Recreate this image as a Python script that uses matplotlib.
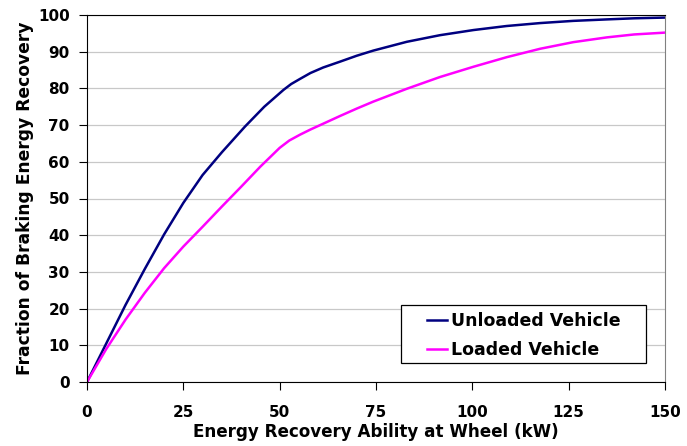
import matplotlib
matplotlib.use("Agg")
import matplotlib.pyplot as plt
from matplotlib.patches import Rectangle

# values (kW, % recovered)
unloaded_kw = [0, 5, 10, 15, 20, 25, 30, 35, 41, 46, 51, 53, 55.3, 58, 61.3, 65.7, 70,
               74.3, 83, 91.6, 100.3, 108.9, 117.6, 126.2, 134.9, 142, 150]
unloaded = [0, 10.5, 21, 30.8, 40.2, 48.8, 56.4, 62.6, 69.6, 75, 79.6, 81.2, 82.6, 84.2,
            85.7, 87.3, 88.9, 90.3, 92.7, 94.5, 95.9, 97.0, 97.8, 98.4, 98.8, 99.1, 99.3]

loaded_kw = [0, 5, 10, 15, 20, 25, 30, 35, 40, 45, 50, 52.5, 55.3, 58, 60.5, 65.7, 70,
             74.3, 83, 91.6, 100.3, 108.9, 117.6, 126.2, 134.9, 142, 150]
loaded = [0, 9, 17, 24.3, 31, 36.9, 42.3, 47.8, 53.2, 58.7, 63.8, 65.8, 67.4, 68.8,
          70, 72.5, 74.5, 76.4, 79.9, 83.1, 85.9, 88.5, 90.8, 92.6, 93.9, 94.7, 95.2]

x_ticks = [0, 25, 50, 75, 100, 125, 150]
y_ticks = list(range(0, 101, 10))

plt.rcParams["font.family"] = ["DejaVu Sans"]
plt.rcParams["font.weight"] = "bold"

fig = plt.figure(figsize=(6.87, 4.46), dpi=100)
ax = fig.add_axes([87 / 687, 1 - 382 / 446, 578 / 687, 367 / 446])

ax.plot(unloaded_kw, unloaded, color="#000080", lw=1.8, label="Unloaded Vehicle",
        solid_joinstyle="round")
ax.plot(loaded_kw, loaded, color="#FF00FF", lw=1.8, label="Loaded Vehicle",
        solid_joinstyle="round")

ax.set_xlim(0, 150)
ax.set_ylim(0, 100)
ax.set_xticks(x_ticks)
ax.set_yticks(y_ticks)
ax.tick_params(axis="both", labelsize=11, length=5.5, width=0.8, direction="out")
ax.tick_params(axis="x", pad=11)
ax.tick_params(axis="y", pad=7)
for lab in ax.get_xticklabels() + ax.get_yticklabels():
    lab.set_fontweight("bold")

ax.yaxis.grid(True, color="#c8c8c8", lw=0.9)
ax.set_axisbelow(True)
ax.spines["right"].set_color("#808080")
for s in ["left", "bottom", "top"]:
    ax.spines[s].set_color("black")

ax.set_xlabel("Energy Recovery Ability at Wheel (kW)", fontsize=12.1, fontweight="bold")
ax.set_ylabel("Fraction of Braking Energy Recovery", fontsize=12.3, fontweight="bold")
ax.xaxis.set_label_coords(0.5, -0.112)
ax.yaxis.set_label_coords(-0.092, 0.5)

# Excel-style legend box, entries set in from the left edge
ax.add_patch(Rectangle((0.543, 0.0526), 0.424, 0.158, transform=ax.transAxes,
                       facecolor="white", edgecolor="black", lw=0.9, zorder=3))
leg = ax.legend(loc="center left", bbox_to_anchor=(427 / 687, 1 - 335.7 / 446),
                bbox_transform=fig.transFigure, fontsize=12.5, frameon=False,
                handlelength=1.15, handletextpad=0.25, borderpad=0,
                labelspacing=0.6, borderaxespad=0)
leg.set_zorder(4)
for t in leg.get_texts():
    t.set_fontweight("bold")

fig.savefig("out.png", dpi=100)
